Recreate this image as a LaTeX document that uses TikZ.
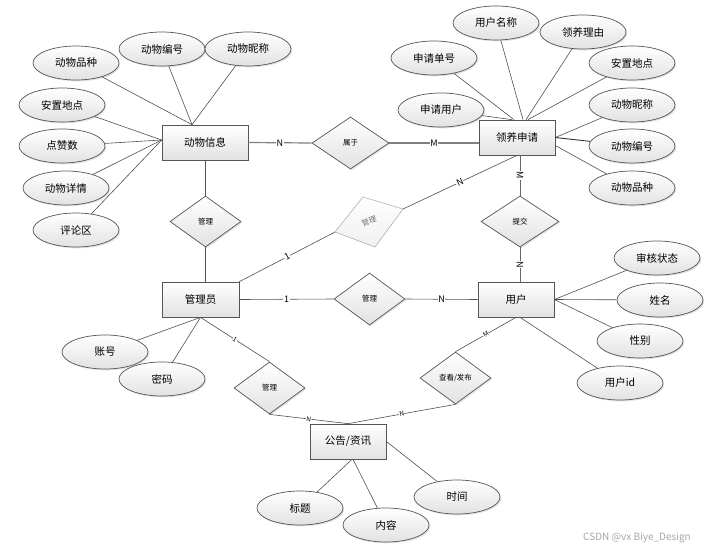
\documentclass[tikz,border=0pt]{standalone}
\usepackage{fontspec}
\setmainfont{Noto Sans CJK SC}
\usetikzlibrary{shapes.geometric,shadows,calc}
\definecolor{edge}{HTML}{555555}
\definecolor{lnk}{HTML}{505050}
\definecolor{shade}{HTML}{E2E2E2}
\begin{document}
\begin{tikzpicture}[x=1pt,y=-1pt,
 base/.style={draw=edge, line width=0.7pt, top color=white, bottom color=shade,
   drop shadow={shadow xshift=1.3pt,shadow yshift=-1.3pt,fill=black!22},
   inner sep=0pt, font=\fontsize{10.5}{12}\selectfont},
 attr/.style={base, ellipse, minimum width=86pt, minimum height=34pt},
 ent/.style={base, rectangle, minimum width=76pt, minimum height=35pt},
 rel/.style={base, diamond, minimum width=71pt, minimum height=52pt, font=\fontsize{7.5}{9}\selectfont},
 conn/.style={draw=lnk, line width=0.6pt},
 thick conn/.style={draw=black!50, line width=1.2pt},
 card/.style={fill=white, inner sep=0.6pt, font=\fontsize{9}{10}\selectfont},
 scard/.style={fill=white, inner sep=0.3pt, font=\fontsize{6.5}{7}\selectfont, sloped},
]
\useasboundingbox[fill=white] (0,0) rectangle (718,550);

% entities
\node[ent, minimum width=86pt] (dw) at (205,142.5) {动物信息};
\node[ent] (ly) at (517,137.5) {领养申请};
\node[ent, minimum width=77pt] (gly) at (200.5,299.5) {管理员};
\node[ent] (yh) at (516,299.5) {用户};
\node[ent] (gg) at (348,441.5) {公告/资讯};

% relationships
\node[rel, minimum width=77pt] (sy) at (350.5,143) {属于};
\node[rel, minimum height=51pt] (glA) at (205.5,221.5) {管理};
\node[rel, minimum width=78pt, minimum height=51pt] (tj) at (520,221.5) {提交};
\node[rel] (glB) at (369.5,299) {管理};
\node[rel] (glC) at (269.5,388) {管理};
\node[rel] (ck) at (455.5,378) {查看/发布};

% grey skewed diamond
\coordinate (gA) at (335,232);
\coordinate (gB) at (363,197);
\coordinate (gC) at (403,209);
\coordinate (gD) at (375,247);
\path[draw=black!30, line width=0.6pt, top color=white, bottom color=black!6] (gA) -- (gB) -- (gC) -- (gD) -- cycle;
\node[rotate=18, text=black!55, font=\fontsize{7.5}{9}\selectfont] (gtx) at (369,221) {管理};

% attributes of 动物信息
\node[attr] (a1) at (76,63) {动物品种};
\node[attr] (a2) at (162,49) {动物编号};
\node[attr] (a3) at (248,49) {动物昵称};
\node[attr] (a4) at (62,105) {安置地点};
\node[attr] (a5) at (62,146) {点赞数};
\node[attr] (a6) at (66,188) {动物详情};
\node[attr] (a7) at (76,230) {评论区};

% attributes of 领养申请
\node[attr] (b1) at (496,23) {用户名称};
\node[attr] (b2) at (583,32) {领养理由};
\node[attr] (b3) at (434,58) {申请单号};
\node[attr] (b4) at (632,63) {安置地点};
\node[attr] (b5) at (441,110) {申请用户};
\node[attr] (b6) at (632,105) {动物昵称};
\node[attr] (b7) at (632,146) {动物编号};
\node[attr] (b8) at (632,188) {动物品种};

% attributes of 管理员
\node[attr] (c1) at (105,352) {账号};
\node[attr] (c2) at (162,379) {密码};

% attributes of 用户
\node[attr] (d1) at (657,258) {审核状态};
\node[attr] (d2) at (660,300) {姓名};
\node[attr] (d3) at (640,341) {性别};
\node[attr] (d4) at (620,383) {用户id};

% attributes of 公告/资讯
\node[attr] (e1) at (300,508) {标题};
\node[attr] (e2) at (386,525) {内容};
\node[attr] (e3) at (457,497) {时间};

% attribute connectors
\foreach \a in {a1,a2,a3} \draw[conn] (\a) -- ($(dw.north)+(-13,0)$);
\foreach \a in {a4,a5,a6,a7} \draw[conn] (\a) -- ($(dw.west)+(0,-2.5)$);
\draw[conn] (b5) -- ($(ly.north)+(-5,0)$);
\draw[conn] (b3) -- ($(ly.north)+(-3,0)$);
\draw[conn] (b1) -- ($(ly.north)+(6,0)$);
\draw[conn] (b2) -- ($(ly.north)+(9,0)$);
\draw[conn] (b4) -- ($(ly.north)+(11,0)$);
\draw[conn] (b6) -- (ly.east);
\draw[conn, line width=0.9pt, draw=black!80] (b7) -- (ly.east);
\draw[conn] (b8) -- ($(ly.east)+(0,8)$);
\foreach \a in {c1,c2} \draw[conn] (\a) -- (gly.south);
\foreach \a in {d1,d2,d3} \draw[conn] (\a) -- (yh.east);
\draw[conn] (d4) -- ($(yh.south)+(4,0)$);
\draw[conn] (e1) -- ($(gg.south)+(4,0)$);
\draw[conn] (e2) -- ($(gg.south)+(5,0)$);
\draw[conn] (e3) -- (gg.east);

% relationship connectors
\draw[thick conn] (dw.east) -- node[card]{N} (sy.west);
\draw[thick conn] (sy.east) -- node[card]{M} (ly.west |- sy.east);
\draw[conn] (glA.north) -- (glA.north |- dw.south);
\draw[conn] (glA.south) -- (glA.south |- gly.north);
\draw[conn] (gly.north east) -- node[card, sloped]{1} (gA);
\draw[conn] (gC) -- node[card, sloped]{N} (ly.south);
\draw[conn, draw=black!60, line width=0.9pt] (tj.north |- ly.south) -- node[card, rotate=-90]{M} (tj.north);
\draw[conn, draw=black!60, line width=0.9pt] (tj.south) -- node[card, rotate=-90]{N} (tj.south |- yh.north);
\draw[conn] (gly.east) -- node[card]{1} (glB.west);
\draw[conn] (glB.east) -- node[card]{N} (yh.west);
\draw[conn] (gly.south) -- node[scard]{1} (glC.north);
\draw[conn] (glC.south) -- node[scard]{N} (gg.north);
\draw[conn] (gg.north) -- node[scard]{N} (ck.south);
\draw[conn] (ck.north) -- node[scard]{M} (yh.south);

% watermark
\node[text=black!35, font=\fontsize{10}{12}\selectfont] (wm) at (637,538) {CSDN @vx Biye\_Design};
\end{tikzpicture}
\end{document}
